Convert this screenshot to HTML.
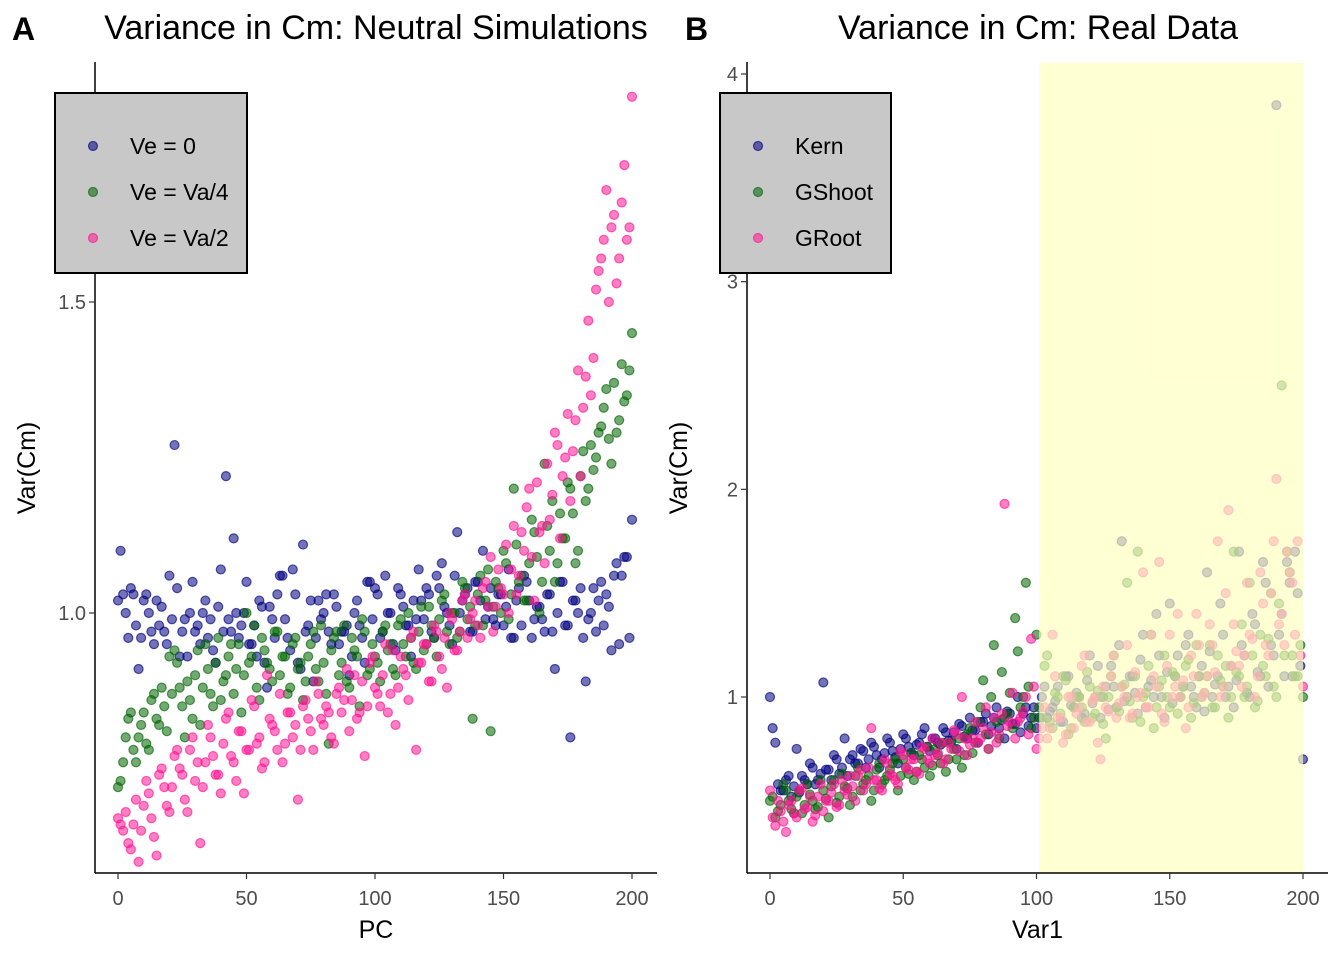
<!DOCTYPE html>
<html><head><meta charset="utf-8"><style>
body{margin:0;background:#fff;}
svg{display:block;font-family:"Liberation Sans",sans-serif;}
</style></head><body>
<svg id="c" width="1344" height="960"></svg>
<script>
const xsA=[];for(let i=0;i<=200;i+=2)xsA.push(i);
const xsO=[];for(let i=1;i<200;i+=2)xsO.push(i);
const aKern=[1.02,1.03,0.96,1.03,0.91,1.02,1.00,0.95,0.98,0.97,1.06,1.27,0.93,0.99,1.00,0.97,0.95,1.02,0.99,0.92,1.07,1.22,0.97,1.00,0.98,1.05,0.95,0.93,1.01,0.88,0.99,1.03,1.06,0.96,1.07,0.92,1.11,0.98,0.89,1.02,1.00,0.97,1.03,0.95,0.97,0.90,1.00,0.98,0.92,1.05,1.04,0.96,1.06,1.00,0.94,1.03,0.98,0.93,0.99,1.02,1.04,0.97,1.06,1.08,1.00,0.95,1.13,1.02,1.04,0.97,1.05,1.10,1.01,0.99,1.03,0.98,1.07,0.96,1.04,1.06,1.02,0.99,1.01,0.97,1.03,0.91,1.05,0.98,0.80,1.02,1.04,0.89,1.00,0.97,1.05,1.03,0.94,1.08,1.06,1.09,1.15];
const aKernO=[1.10,1.00,1.04,0.98,0.96,1.03,0.97,1.02,1.01,0.95,0.99,1.04,0.97,0.93,1.05,0.98,1.00,0.96,0.94,1.01,0.97,0.99,1.12,0.96,1.00,0.95,0.98,1.02,0.92,1.01,0.96,1.06,0.99,0.94,1.03,0.91,0.97,1.02,0.96,0.99,1.03,0.95,1.01,0.97,0.98,0.93,1.02,0.96,1.05,0.99,1.03,0.97,1.00,0.95,1.04,1.01,0.98,1.02,1.07,0.99,1.03,0.96,1.04,1.01,0.98,1.06,1.00,1.03,0.97,1.05,1.02,0.99,1.04,0.98,1.03,1.01,0.96,1.02,0.98,1.05,0.96,1.01,0.99,1.03,0.97,1.00,1.05,0.98,1.02,1.00,0.96,0.99,1.04,1.02,0.98,1.01,1.06,0.95,1.09,0.96];
const aVe4=[0.72,0.76,0.83,0.78,0.80,0.84,0.78,0.87,0.82,0.85,0.93,0.94,0.88,0.80,0.86,0.90,0.82,0.95,0.87,0.92,0.86,0.90,0.95,0.91,0.84,1.00,0.93,0.88,0.96,0.92,0.89,0.97,0.93,0.87,0.95,0.91,0.86,0.93,0.97,0.89,0.92,0.79,0.96,0.90,0.98,0.88,0.94,0.85,0.97,0.91,0.93,0.89,0.98,0.95,0.90,0.99,0.93,0.96,0.91,1.01,0.95,0.98,0.93,1.02,0.97,1.00,0.96,1.05,0.99,0.83,1.03,0.98,1.07,1.01,1.04,1.10,0.99,1.20,1.05,1.02,1.08,1.13,1.00,1.24,1.10,1.05,1.16,1.12,1.20,1.08,1.22,1.18,1.27,1.25,1.30,1.36,1.24,1.29,1.40,1.35,1.45];
const aVe4O=[0.73,0.80,0.84,0.76,0.82,0.79,0.86,0.83,0.88,0.81,0.87,0.92,0.85,0.89,0.83,0.94,0.88,0.91,0.85,0.96,0.89,0.93,0.87,0.95,0.90,0.92,0.98,0.86,0.94,0.91,0.97,0.90,0.93,0.88,0.96,0.92,0.89,0.95,0.91,0.98,0.87,0.94,0.97,0.92,0.89,0.96,0.93,0.99,0.90,0.95,0.92,0.97,0.94,0.91,0.98,0.95,1.00,0.92,0.97,0.94,1.01,0.96,0.99,1.03,0.95,1.00,0.97,1.04,1.01,0.98,1.06,1.02,0.81,1.05,1.00,1.08,1.03,1.11,1.06,1.02,1.15,1.09,1.05,1.14,1.18,1.08,1.12,1.21,1.16,1.10,1.26,1.20,1.23,1.29,1.33,1.28,1.37,1.31,1.34,1.39];
const aVe2=[0.67,0.65,0.63,0.66,0.60,0.69,0.71,0.64,0.74,0.72,0.68,0.77,0.75,0.70,0.78,0.73,0.63,0.76,0.80,0.74,0.71,0.83,0.77,0.73,0.81,0.78,0.86,0.79,0.75,0.90,0.82,0.78,0.76,0.84,0.80,0.70,0.85,0.83,0.78,0.87,0.82,0.84,0.79,0.88,0.86,0.81,0.90,0.84,0.77,0.92,0.88,0.85,0.95,0.87,0.82,0.93,0.90,0.96,0.78,0.92,0.95,0.89,0.97,0.91,0.88,0.99,0.94,1.02,0.96,1.00,0.98,1.04,1.01,0.97,1.07,1.03,1.00,1.14,1.06,1.10,1.20,1.02,1.13,1.08,1.15,1.29,1.12,1.25,1.18,1.31,1.22,1.38,1.35,1.52,1.57,1.68,1.62,1.53,1.66,1.60,1.83];
const aVe2O=[0.66,0.68,0.62,0.70,0.65,0.73,0.67,0.61,0.75,0.69,0.72,0.78,0.74,0.68,0.80,0.76,0.72,0.82,0.77,0.74,0.79,0.84,0.76,0.81,0.71,0.78,0.85,0.80,0.76,0.83,0.81,0.87,0.79,0.84,0.82,0.78,0.86,0.81,0.89,0.83,0.85,0.80,0.87,0.84,0.91,0.86,0.83,0.89,0.85,0.93,0.87,0.90,0.84,0.94,0.88,0.91,0.86,0.97,0.92,0.95,0.89,0.98,0.93,0.96,1.00,0.94,0.97,1.03,0.99,1.02,0.96,1.05,1.09,1.01,1.04,1.11,1.07,1.03,1.13,1.17,1.09,1.21,1.14,1.24,1.19,1.27,1.22,1.32,1.26,1.39,1.33,1.47,1.41,1.55,1.60,1.50,1.64,1.57,1.72,1.62];
const bKern=[1.0,0.78,0.55,0.6,0.52,0.75,0.62,0.58,0.66,0.6,1.07,0.65,0.72,0.63,0.8,0.7,0.68,0.75,0.66,0.78,0.72,0.7,0.8,0.74,0.68,0.82,0.76,0.72,0.78,0.85,0.74,0.8,0.77,0.83,0.79,0.75,0.86,0.8,0.84,0.78,0.88,0.82,0.9,0.85,0.8,0.92,0.87,0.83,0.95,0.9,0.85,1.0,0.9,0.95,1.05,0.88,1.1,0.95,1.0,0.92,1.2,1.0,0.9,1.05,1.15,0.95,1.75,1.0,1.1,0.92,1.3,1.05,1.0,1.2,0.9,1.45,1.1,1.0,1.25,1.05,0.95,1.15,1.6,1.0,1.1,1.3,1.05,0.95,1.7,1.2,1.0,1.35,1.1,1.55,1.25,3.85,1.4,1.65,1.1,1.5,0.7];
const bKernO=[0.85,0.58,0.55,0.62,0.57,0.54,0.6,0.68,0.58,0.63,0.65,0.6,0.7,0.66,0.62,0.72,0.68,0.74,0.7,0.76,0.66,0.73,0.78,0.71,0.75,0.8,0.73,0.77,0.82,0.76,0.8,0.78,0.85,0.79,0.83,0.87,0.81,0.9,0.84,0.88,0.92,0.86,0.95,0.89,0.93,0.87,1.0,0.92,0.86,0.95,0.9,1.05,0.93,0.98,0.88,1.1,0.96,1.02,0.9,1.08,0.97,1.15,1.0,0.94,1.05,1.25,0.98,1.1,1.02,1.18,0.95,1.08,1.4,1.0,1.12,0.97,1.2,1.05,1.3,1.0,1.1,0.93,1.22,1.06,1.45,1.0,1.15,1.08,1.25,1.02,1.4,1.12,1.65,1.05,1.2,1.3,1.1,1.55,1.7,1.15];
const bShoot=[0.5,0.42,0.48,0.55,0.46,0.52,0.44,0.58,0.5,0.47,0.55,0.42,0.6,0.52,0.57,0.48,0.62,0.55,0.6,0.5,0.65,0.58,0.62,0.68,0.55,0.7,0.63,0.6,0.72,0.66,0.62,0.75,0.68,0.64,0.78,0.7,0.66,0.82,0.73,0.88,1.08,0.75,1.25,0.8,0.9,1.02,1.38,0.95,1.55,0.85,1.3,0.9,1.2,0.85,1.0,1.1,0.82,0.95,1.0,0.88,1.05,0.92,1.0,0.8,1.1,0.95,1.05,1.55,0.9,1.7,1.0,1.15,0.85,1.05,1.2,0.95,1.1,1.0,1.15,0.9,1.25,1.0,1.1,0.95,1.2,1.05,0.9,1.7,1.1,1.0,1.55,0.95,1.3,1.1,1.5,1.0,2.5,1.7,1.2,1.1,1.0];
const bShootO=[0.52,0.45,0.58,0.5,0.44,0.55,0.48,0.53,0.46,0.6,0.51,0.57,0.49,0.63,0.56,0.52,0.66,0.58,0.62,0.55,0.68,0.6,0.65,0.7,0.62,0.66,0.73,0.64,0.7,0.76,0.67,0.72,0.78,0.7,0.75,0.8,0.72,0.85,0.78,0.95,0.82,1.0,0.88,1.12,0.92,0.85,1.22,1.0,1.05,0.9,0.95,1.15,0.88,1.02,0.92,1.08,0.85,1.0,0.95,1.12,0.9,1.03,0.87,1.0,1.2,0.93,1.06,0.98,1.1,0.88,1.02,1.3,0.95,1.08,1.0,1.12,0.92,1.05,1.18,0.97,1.1,1.02,1.25,0.95,1.08,1.15,1.0,1.12,1.35,1.05,1.2,0.98,1.15,1.28,1.05,1.45,1.2,1.6,1.1,1.25];
const bRoot=[0.55,0.38,0.45,0.35,0.5,0.42,0.56,0.47,0.4,0.52,0.45,0.5,0.58,0.48,0.55,0.62,0.5,0.65,0.58,0.85,0.6,0.55,0.68,0.62,0.58,0.72,0.65,0.7,0.63,0.75,0.68,0.72,0.78,0.7,0.75,0.82,1.0,0.72,0.8,0.78,0.85,0.75,0.9,0.82,1.93,0.88,0.8,0.9,1.0,1.28,0.75,0.85,0.8,1.3,0.9,0.78,1.0,0.85,0.95,1.2,0.88,1.0,0.7,0.95,1.1,0.9,1.05,1.25,0.92,1.0,1.6,0.95,1.1,1.65,0.88,1.3,1.05,1.0,0.85,1.2,1.4,1.0,1.1,1.25,1.75,1.05,1.9,1.35,1.15,1.2,1.3,1.0,1.6,1.25,1.5,2.05,1.4,1.7,1.55,1.75,1.05];
const bRootO=[0.42,0.5,0.4,0.48,0.44,0.55,0.46,0.52,0.43,0.58,0.5,0.54,0.47,0.6,0.53,0.57,0.62,0.55,0.66,0.6,0.56,0.7,0.63,0.6,0.74,0.66,0.7,0.64,0.76,0.7,0.8,0.73,0.68,0.78,0.84,0.74,0.8,0.77,0.88,0.8,0.95,0.83,0.78,0.92,0.86,1.02,0.88,0.93,0.82,1.05,0.8,0.95,0.85,1.1,0.9,0.82,1.0,0.92,1.15,0.88,0.98,0.78,1.05,0.93,1.2,0.97,1.0,0.9,1.12,1.02,0.95,1.3,1.05,0.92,1.15,1.0,1.4,1.08,0.95,1.1,1.25,1.02,1.35,1.12,1.0,1.5,1.15,1.22,1.05,1.55,1.28,1.1,1.45,1.2,1.75,1.35,1.25,1.6,1.3,1.2];
const xTicks=[0,50,100,150,200];
const yTicksA=[1.0,1.5], yTickLabA=["1.0","1.5"];
const yTicksB=[1,2,3,4];
const legA=["Ve = 0","Ve = Va/4","Ve = Va/2"], legB=["Kern","GShoot","GRoot"];
const highlight=[101,200];
const cols=["#000080","#006400","#ff1493"];
const NS="http://www.w3.org/2000/svg", svg=document.getElementById('c');
function mk(t,a,p){const e=document.createElementNS(NS,t);for(const k in a)e.setAttribute(k,a[k]);(p||svg).appendChild(e);return e;}
function lin(d0,d1,r0,r1){return v=>r0+(v-d0)/(d1-d0)*(r1-r0);}
function panel(o){
  const g=mk('g',{});
  
  
  const X=lin(0,200,o.x0,o.x200), Y=lin(o.ya,o.yb,o.pya,o.pyb);
  const pts=mk('g',{},g);
  
  
  o.series.forEach((pair,si)=>{[[pair[0],xsA],[pair[1],xsO]].forEach(([s,xs])=>{s.forEach((v,i)=>{
    const c=mk('circle',{cx:X(xs[i]),cy:Y(v),r:4.5,fill:cols[si],'fill-opacity':0.55,stroke:cols[si],'stroke-opacity':0.65,'stroke-width':1.2},pts);
    
    
  });});});
  if(o.hl){const r=mk('rect',{x:X(highlight[0]),y:63,width:X(highlight[1])-X(highlight[0]),height:810,fill:'#ffffbf','fill-opacity':0.68},g);
    
    }
  mk('line',{x1:o.L,y1:62,x2:o.L,y2:873,stroke:'#000','stroke-width':1.5},g);
  mk('line',{x1:o.L,y1:873,x2:o.R,y2:873,stroke:'#000','stroke-width':1.5},g);
  xTicks.forEach(t=>{mk('line',{x1:X(t),y1:873,x2:X(t),y2:879,stroke:'#333','stroke-width':1.2},g);
    const tx=mk('text',{x:X(t),y:905,'font-size':20,fill:'#4d4d4d','text-anchor':'middle'},g);tx.textContent=t;
    });
  o.yt.forEach((t,i)=>{mk('line',{x1:o.L-6,y1:Y(t),x2:o.L,y2:Y(t),stroke:'#333','stroke-width':1.2},g);
    const tx=mk('text',{x:o.L-9,y:Y(t)+7,'font-size':20,fill:'#4d4d4d','text-anchor':'end'},g);tx.textContent=o.ytl[i];
    });
  let t=mk('text',{x:(o.L+o.R)/2,y:938,'font-size':25,'text-anchor':'middle'},g);t.textContent=o.xl;
  
  t=mk('text',{x:0,y:0,'font-size':25,'text-anchor':'middle',transform:`translate(${o.L-60},468) rotate(-90)`},g);t.textContent='Var(Cm)';
  
  t=mk('text',{x:o.tx,y:39,'font-size':34,'text-anchor':'middle'},g);t.textContent=o.title;
  
  t=mk('text',{x:o.lx,y:40,'font-size':32,'font-weight':'bold'},g);t.textContent=o.tag;
  
  const lg=mk('g',{},g);
  mk('rect',{x:o.bx,y:93,width:o.bw,height:180,fill:'#c8c8c8',stroke:'#000','stroke-width':2},lg);
  o.leg.forEach((l,i)=>{const yy=146+i*46;
    mk('circle',{cx:o.bx+38,cy:yy,r:4.5,fill:cols[i],'fill-opacity':0.55,stroke:cols[i],'stroke-opacity':0.65,'stroke-width':1.2},lg);
    const e=mk('text',{x:o.bx+75,y:yy+8,'font-size':23},lg);e.textContent=l;
    });
}
panel({id:'neutral',x0:118,x200:632,ya:1.0,yb:1.5,pya:613,pyb:302,L:95,R:657,series:[[aKern,aKernO],[aVe4,aVe4O],[aVe2,aVe2O]],yt:yTicksA,ytl:yTickLabA,xl:'PC',title:'Variance in Cm: Neutral Simulations',tx:376,tag:'A',lx:12,bx:55,bw:192,leg:legA,hl:false});
panel({id:'real',x0:770,x200:1303,ya:1,yb:4,pya:697,pyb:74,L:747,R:1328,series:[[bKern,bKernO],[bShoot,bShootO],[bRoot,bRootO]],yt:yTicksB,ytl:yTicksB.map(String),xl:'Var1',title:'Variance in Cm: Real Data',tx:1038,tag:'B',lx:685,bx:720,bw:171,leg:legB,hl:true});
</script>
</body></html>
